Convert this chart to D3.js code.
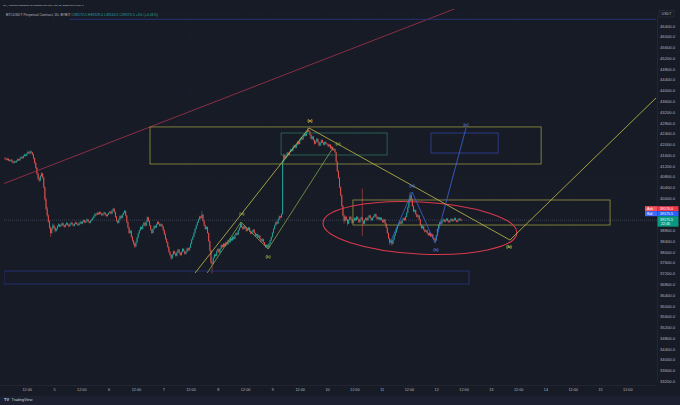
<!DOCTYPE html>
<html>
<head>
<meta charset="utf-8">
<title>BTCUSDT Perpetual, 30m</title>
<script src="https://cdn.jsdelivr.net/npm/d3@7"></script>
<style>
  html, body { margin: 0; padding: 0; background: #171b26; }
  svg { display: block; font-family: "Liberation Sans", Arial, sans-serif; }
</style>
</head>
<body>
<script>
// 30 minute candles, [open, high, low, close], one array per day (chart time UTC+1)
var mar04 = [
  [41480,41520,41420,41450],[41450,41480,41390,41420],[41420,41500,41400,41460],[41460,41470,41370,41400],
  [41400,41430,41340,41380],[41380,41450,41360,41420],[41420,41440,41320,41350],[41350,41380,41270,41310],
  [41310,41390,41290,41360],[41360,41380,41300,41330],[41330,41410,41310,41380],[41380,41470,41360,41440],
  [41440,41460,41370,41400],[41400,41500,41380,41470],[41470,41560,41450,41520],[41520,41540,41450,41480],
  [41480,41590,41470,41560],[41560,41650,41540,41610],[41610,41630,41540,41570],[41570,41680,41550,41640],
  [41640,41760,41620,41700],[41700,41720,41620,41660],[41660,41780,41640,41730],[41730,41750,41650,41690],
  [41690,41710,41580,41620],[41620,41640,41440,41480],[41480,41500,41260,41300],[41300,41340,41080,41120],
  [41120,41150,40860,40900],[40900,40940,40680,40720],[40720,40780,40600,40650],[40650,40860,40630,40820],
  [40820,40960,40790,40910],[40910,40930,40720,40760],[40760,40790,40360,40400],[40400,40430,39900,39950],
  [39950,40000,39550,39600],[39600,39680,39300,39350],[39350,39400,39080,39120],[39120,39180,38850,38900],
  [38900,38940,38550,38700],[38700,38900,38660,38860],[38860,39050,38820,38980]
];
var mar05 = [
  [38980,39020,38860,38900],[38900,38930,38720,38780],[38780,38880,38750,38850],[38850,38990,38830,38960],
  [38960,39060,38930,39020],[39020,39040,38910,38940],[38940,39020,38920,38990],[38990,39100,38970,39060],
  [39060,39080,38950,38980],[38980,39000,38890,38930],[38930,39040,38910,39010],[39010,39110,38990,39070],
  [39070,39090,38970,39000],[39000,39020,38910,38950],[38950,39060,38930,39030],[39030,39120,39010,39080],
  [39080,39100,38980,39010],[39010,39030,38940,38970],[38970,39070,38950,39040],[39040,39130,39020,39090],
  [39090,39110,39000,39030],[39030,39050,38960,38990],[38990,39090,38970,39060],[39060,39150,39040,39110],
  [39110,39130,39020,39050],[39050,39160,39030,39120],[39120,39210,39100,39170],[39170,39190,39060,39090],
  [39090,39170,39070,39140],[39140,39240,39120,39200],[39200,39220,39100,39130],[39130,39150,39050,39080],
  [39080,39180,39060,39150],[39150,39230,39130,39190],[39190,39290,39170,39250],[39250,39360,39230,39320],
  [39320,39450,39300,39410],[39410,39430,39340,39380],[39380,39490,39360,39450],[39450,39470,39370,39400],
  [39400,39510,39380,39470],[39470,39490,39390,39420],[39420,39440,39320,39360],[39360,39440,39340,39410],
  [39410,39500,39390,39460],[39460,39480,39350,39380],[39380,39400,39290,39330],[39330,39420,39310,39390]
];
var mar06 = [
  [39390,39470,39370,39440],[39440,39530,39420,39490],[39490,39510,39390,39420],[39420,39560,39400,39530],
  [39530,39640,39510,39600],[39600,39620,39450,39480],[39480,39500,39270,39300],[39300,39330,39110,39150],
  [39150,39180,39040,39080],[39080,39240,39060,39210],[39210,39360,39190,39330],[39330,39350,39230,39260],
  [39260,39410,39240,39380],[39380,39480,39360,39450],[39450,39560,39430,39520],[39520,39540,39320,39350],
  [39350,39370,39070,39100],[39100,39130,38870,38900],[38900,38930,38660,38700],[38700,38820,38680,38780],
  [38780,38800,38520,38560],[38560,38590,38380,38420],[38420,38450,38260,38300],[38300,38330,38140,38200],
  [38200,38380,38180,38350],[38350,38550,38330,38520],[38520,38710,38500,38680],[38680,38830,38660,38800],
  [38800,38950,38780,38920],[38920,38940,38820,38850],[38850,39020,38830,38990],[38990,39110,38970,39080],
  [39080,39100,38940,38970],[38970,39150,38950,39120],[39120,39320,39100,39280],[39280,39300,39120,39150],
  [39150,39170,38950,38980],[38980,39000,38790,38820],[38820,38840,38660,38700],[38700,38880,38680,38850],
  [38850,38990,38830,38960],[38960,38980,38870,38900],[38900,39050,38880,39020],[39020,39140,39000,39110],
  [39110,39130,39010,39040],[39040,39060,38930,38960],[38960,39050,38940,39020],[39020,39040,38910,38940]
];
var mar07 = [
  [38940,38960,38770,38800],[38800,38830,38620,38650],[38650,38680,38450,38480],[38480,38510,38320,38350],
  [38350,38380,38150,38180],[38180,38210,37970,38000],[38000,38030,37850,37880],[37880,37910,37700,37760],
  [37760,37930,37740,37900],[37900,38050,37880,38020],[38020,38040,37920,37950],[37950,37970,37820,37850],
  [37850,38010,37830,37980],[37980,38110,37960,38080],[38080,38100,37940,37960],[37960,37980,37850,37880],
  [37880,38020,37860,37990],[37990,38140,37970,38110],[38110,38130,38000,38030],[38030,38050,37890,37920],
  [37920,38030,37900,38000],[38000,38160,37980,38130],[38130,38150,38030,38060],[38060,38180,38040,38150],
  [38150,38330,38130,38300],[38300,38480,38280,38450],[38450,38590,38430,38560],[38560,38730,38540,38700],
  [38700,38880,38680,38850],[38850,39010,38830,38980],[38980,39130,38960,39100],[39100,39230,39080,39200],
  [39200,39340,39180,39310],[39310,39330,39220,39260],[39260,39520,39240,39380],[39380,39400,39120,39150],
  [39150,39170,38950,38980],[38980,39000,38820,38850],[38850,38950,38830,38920],[38920,38940,38670,38700],
  [38700,38720,38370,38400],[38400,38420,38020,38050],[38050,38080,37560,37600],[37600,37640,37200,37550],
  [37550,37810,37530,37780],[37780,37930,37760,37900],[37900,37920,37820,37850],[37850,38050,37830,38020]
];
var mar08 = [
  [38020,38130,38000,38100],[38100,38120,37950,37980],[37980,38150,37960,38120],[38120,38280,38100,38250],
  [38250,38270,38150,38180],[38180,38330,38160,38300],[38300,38320,38190,38220],[38220,38380,38200,38350],
  [38350,38370,38250,38280],[38280,38450,38260,38420],[38420,38440,38330,38360],[38360,38530,38340,38500],
  [38500,38520,38400,38430],[38430,38590,38410,38560],[38560,38580,38450,38480],[38480,38650,38460,38620],
  [38620,38730,38600,38700],[38700,38720,38610,38640],[38640,38830,38620,38800],[38800,38930,38780,38900],
  [38900,39110,38880,39050],[39050,39070,38890,38920],[38920,38940,38820,38850],[38850,38990,38830,38960],
  [38960,38980,38850,38880],[38880,38900,38750,38780],[38780,38870,38760,38840],[38840,38930,38820,38900],
  [38900,38920,38730,38760],[38760,38780,38650,38680],[38680,38780,38660,38750],[38750,38850,38730,38820],
  [38820,38840,38670,38700],[38700,38720,38570,38600],[38600,38680,38580,38650],[38650,38670,38510,38540],
  [38540,38630,38520,38600],[38600,38620,38450,38480],[38480,38500,38370,38400],[38400,38500,38380,38470],
  [38470,38490,38320,38350],[38350,38370,38230,38260],[38260,38280,38150,38180],[38180,38280,38160,38250],
  [38250,38270,38100,38160],[38160,38330,38140,38300],[38300,38450,38280,38420],[38420,38580,38400,38550]
];
var mar09 = [
  [38550,38730,38530,38700],[38700,38880,38680,38850],[38850,39010,38830,38980],[38980,39130,38960,39100],
  [39100,39120,39010,39050],[39050,39230,39030,39200],[39200,39350,39180,39320],[39320,39340,39240,39280],
  [39280,39430,39260,39400],[39400,41420,39380,41350],[41350,41650,41330,41600],[41600,41620,41430,41480],
  [41480,41580,41460,41550],[41550,41710,41530,41680],[41680,41700,41570,41600],[41600,41750,41580,41720],
  [41720,41830,41700,41800],[41800,41820,41720,41750],[41750,41910,41730,41880],[41880,41980,41860,41950],
  [41950,41970,41840,41870],[41870,42010,41850,41980],[41980,42110,41960,42080],[42080,42100,41980,42010],
  [42010,42180,41990,42150],[42150,42260,42130,42230],[42230,42250,42150,42180],[42180,42330,42160,42300],
  [42300,42410,42280,42380],[42380,42400,42290,42320],[42320,42480,42300,42450],[42450,42620,42430,42520],
  [42520,42540,42450,42480],[42480,42500,42320,42350],[42350,42370,42170,42200],[42200,42310,42180,42280],
  [42280,42300,42120,42150],[42150,42170,41990,42020],[42020,42130,42000,42100],[42100,42230,42080,42200],
  [42200,42220,42050,42080],[42080,42100,41920,41950],[41950,42080,41930,42050],[42050,42180,42030,42150],
  [42150,42170,42030,42060],[42060,42080,41950,41980],[41980,42110,41960,42080],[42080,42100,41990,42020]
];
var mar10 = [
  [42020,42040,41970,42000],[42000,42020,41890,41920],[41920,42010,41900,41980],[41980,42000,41820,41850],
  [41850,41930,41830,41900],[41900,41920,41750,41780],[41780,41850,41760,41820],[41820,41840,41670,41700],
  [41700,41720,41320,41350],[41350,41380,40970,41000],[41000,41030,40710,40750],[40750,40780,40360,40400],
  [40400,40430,40060,40100],[40100,40130,39660,39700],[39700,39730,39310,39350],[39350,39380,39050,39150],
  [39150,39340,39130,39300],[39300,39320,39170,39200],[39200,39220,38980,39050],[39050,39210,39030,39180],
  [39180,39330,39160,39300],[39300,39320,39190,39220],[39220,39240,39050,39080],[39080,39190,39060,39160],
  [39160,39280,39140,39250],[39250,39270,39150,39180],[39180,39330,39160,39300],[39300,39320,39190,39220],
  [39220,39240,39070,39100],[39100,39230,39080,39200],[39200,39310,39180,39280],[39280,40350,38600,39150],
  [39150,39170,39020,39050],[39050,39210,39030,39180],[39180,39280,39160,39250],[39250,39270,39140,39170],
  [39170,39310,39150,39280],[39280,39380,39260,39350],[39350,39370,39220,39250],[39250,39270,39150,39180],
  [39180,39290,39160,39260],[39260,39350,39240,39320],[39320,39420,39300,39400],[39400,39420,39270,39300],
  [39300,39320,39190,39220],[39220,39310,39200,39280],[39280,39300,39170,39200],[39200,39290,39180,39260]
];
var mar11 = [
  [39260,39280,39150,39180],[39180,39200,39070,39100],[39100,39230,39080,39200],[39200,39220,39020,39050],
  [39050,39070,38870,38900],[38900,38920,38670,38700],[38700,38720,38470,38500],[38500,38520,38250,38350],
  [38350,38450,38330,38420],[38420,38440,38220,38300],[38300,38480,38280,38450],[38450,38630,38430,38600],
  [38600,38750,38580,38720],[38720,38880,38700,38850],[38850,38990,38830,38960],[38960,39080,38940,39050],
  [39050,39150,39030,39120],[39120,39140,39020,39050],[39050,39210,39030,39180],[39180,39280,39160,39250],
  [39250,39270,39150,39180],[39180,39330,39160,39300],[39300,39480,39280,39450],[39450,39680,39430,39650],
  [39650,39930,39630,39900],[39900,40220,39880,40100],[40100,40130,39920,39950],[39950,39980,39670,39700],
  [39700,39730,39470,39500],[39500,39580,39480,39550],[39550,39570,39370,39400],[39400,39420,39270,39300],
  [39300,39380,39280,39350],[39350,39370,39170,39200],[39200,39220,38970,39000],[39000,39020,38850,38880],
  [38880,38980,38860,38950],[38950,38970,38790,38820],[38820,38840,38720,38750],[38750,38830,38730,38800],
  [38800,38820,38670,38700],[38700,38720,38590,38620],[38620,38730,38600,38700],[38700,38720,38550,38580],
  [38580,38680,38560,38650],[38650,38670,38490,38520],[38520,38540,38440,38480],[38480,38500,38360,38420]
];
var mar12 = [
  [38420,38630,38400,38600],[38600,38880,38580,38850],[38850,39030,38830,39000],[39000,39130,38980,39100],
  [39100,39120,39020,39050],[39050,39180,39030,39150],[39150,39240,39130,39200],[39200,39220,39090,39120],
  [39120,39210,39100,39180],[39180,39260,39160,39230],[39230,39250,39120,39150],[39150,39170,39080,39100],
  [39100,39200,39080,39170],[39170,39250,39150,39220],[39220,39240,39110,39140],[39140,39220,39120,39190],
  [39190,39280,39170,39250],[39250,39270,39150,39170],[39170,39190,39090,39120],[39120,39210,39100,39180],
  [39180,39260,39160,39230],[39230,39250,39150,39172.5],[39172.5,39229,39145.5,39175.5]
];
var dayBars = [mar04, mar05, mar06, mar07, mar08, mar09, mar10, mar11, mar12];
// first bar of each day, hours since Mar 4 00:00
var dayStarts = [2.5, 24, 48, 72, 96, 120, 144, 168, 192];

// axes
var priceTicks = [33200,33600,34000,34400,34800,35200,35600,36000,36400,36800,37200,37600,38000,38400,
  38800,39200,39600,40000,40400,40800,41200,41600,42000,42400,42800,43200,43600,44000,44400,44800,
  45200,45600,46000,46400,46800];
var timeTickHours = [12,24,36,48,60,72,84,96,108,120,132,144,156,168,180,192,204,216,228,240,252,264,276];
var timeTickLabels = ["12:00","5","12:00","6","12:00","7","12:00","8","12:00","9","12:00","10","12:00",
  "11","12:00","12","12:00","13","12:00","14","12:00","15","12:00"];

// drawings, in [hours, price]
var trendLine = [[1.5, 40520], [203.5, 47140]];
var topLine = [[31, 46640], [288.6, 46640]];
// boxes: [t0, t1, top price, bottom price]
var yellowBox = [66.2, 238.1, 42640, 41264];
var greenBox = [123.8, 170.4, 42416, 41598];
var blueBoxTop = [189.7, 219.2, 42416, 41673];
var yellowBoxLow = [155.4, 268.4, 39926, 38996];
var blueBoxLow = [2.0, 206.4, 37287, 36804];
var ellipseBox = [142.2, 227.5, 39851, 37918];
var ellipseTilt = 3;
var yellowWave = [[86.0, 37212], [136.1, 42602], [224.4, 38439], [288.6, 43717]];
var greenWave = [[91.3, 37212], [106.2, 39108], [118.1, 38104], [146.6, 41858]];
var blueWave = [[171.7, 38327], [181.4, 40223], [191.5, 38327], [205.1, 42602]];
var yellowLabels = [["(a)", 136.5, 42880], ["(b)", 224, 38200]];
var greenLabels = [["(a)", 106.6, 39442], ["(b)", 118.1, 37844], ["(c)", 148.8, 42007]];
var blueLabels = [["(a)", 181.4, 40483], ["(b)", 191.9, 38104], ["(c)", 205.1, 42713]];

var header1 = "TP_Analytics published on TradingView.com, Mar 12, 2022 11:07 UTC+1";
var header2 = "BTCUSDT Perpetual Contract, 30, BYBIT ";
var header2Values = "O39172.5 H39229.0 L39145.5 C39175.5 +3.0 (+0.01%)";
var askPrice = "39176.0", bidPrice = "39175.5", lastPrice = 39175.5, countdown = "22:46";

var W = 680, H = 405;
var pane = {left: 4, right: 657, top: 9, bottom: 385};
var up = "#26a69a", down = "#ef5350";

var svg = d3.select("body").append("svg").attr("width", W).attr("height", H);
svg.append("rect").attr("width", W).attr("height", H).attr("fill", "#171b26");
svg.append("rect").attr("y", 396).attr("width", W).attr("height", 9).attr("fill", "#1c2030");

var x = d3.scaleLinear().domain([0, 288.6]).range([-0.6, 656]);
var y = d3.scaleLinear().domain([33200, 46800]).range([381, 15]);
var ly = y(lastPrice);

svg.append("clipPath").attr("id", "pane").append("rect")
    .attr("x", pane.left).attr("y", pane.top)
    .attr("width", pane.right - pane.left).attr("height", pane.bottom - pane.top);

var grid = svg.append("g").attr("clip-path", "url(#pane)");
grid.selectAll(".gy").data(priceTicks).enter().append("line")
    .attr("x1", pane.left).attr("x2", pane.right)
    .attr("y1", function(d) { return y(d); }).attr("y2", function(d) { return y(d); })
    .attr("stroke", "#1d2130").attr("stroke-width", 0.5);
grid.selectAll(".gx").data(timeTickHours).enter().append("line")
    .attr("y1", pane.top).attr("y2", pane.bottom)
    .attr("x1", function(d) { return x(d); }).attr("x2", function(d) { return x(d); })
    .attr("stroke", "#1d2130").attr("stroke-width", 0.5);

var plot = svg.append("g").attr("clip-path", "url(#pane)");

// candles
var candles = [];
dayBars.forEach(function(rows, d) {
    rows.forEach(function(r, i) {
        candles.push({t: dayStarts[d] + i * 0.5, o: r[0], h: r[1], l: r[2], c: r[3]});
    });
});
var colour = function(d) { return d.c >= d.o ? up : down; };

// last price line
plot.append("line")
    .attr("x1", pane.left).attr("x2", pane.right)
    .attr("y1", ly).attr("y2", ly)
    .attr("stroke", "#5a6474").attr("stroke-width", 0.5).attr("stroke-dasharray", "1,1");

plot.selectAll(".wick").data(candles).enter().append("line")
    .attr("x1", function(d) { return x(d.t); }).attr("x2", function(d) { return x(d.t); })
    .attr("y1", function(d) { return y(d.h); }).attr("y2", function(d) { return y(d.l); })
    .attr("stroke", colour).attr("stroke-width", 0.5);
plot.selectAll(".body").data(candles).enter().append("rect")
    .attr("x", function(d) { return x(d.t) - 0.45; }).attr("width", 0.9)
    .attr("y", function(d) { return y(Math.max(d.o, d.c)); })
    .attr("height", function(d) { return Math.max(0.5, Math.abs(y(d.o) - y(d.c))); })
    .attr("fill", colour);

// drawings
var line = d3.line().x(function(d) { return x(d[0]); }).y(function(d) { return y(d[1]); });
function box(b, stroke) {
    plot.append("rect")
        .attr("x", x(b[0])).attr("y", y(b[2]))
        .attr("width", x(b[1]) - x(b[0])).attr("height", y(b[3]) - y(b[2]))
        .attr("fill", "none").attr("stroke", stroke).attr("stroke-width", 0.7);
}
plot.append("path").attr("d", line(trendLine)).attr("fill", "none").attr("stroke", "#a8324d").attr("stroke-width", 0.8);
plot.append("path").attr("d", line(topLine)).attr("fill", "none").attr("stroke", "#2b3a8c").attr("stroke-width", 0.8);
box(yellowBox, "#a9a642");
box(greenBox, "#2e7a62");
box(blueBoxTop, "#3447b0");
box(yellowBoxLow, "#a9a642");
box(blueBoxLow, "#2b3a8c");

var ecx = x((ellipseBox[0] + ellipseBox[1]) / 2), ecy = y((ellipseBox[2] + ellipseBox[3]) / 2);
plot.append("ellipse")
    .attr("cx", ecx).attr("cy", ecy)
    .attr("rx", (x(ellipseBox[1]) - x(ellipseBox[0])) / 2)
    .attr("ry", (y(ellipseBox[3]) - y(ellipseBox[2])) / 2)
    .attr("transform", "rotate(" + ellipseTilt + "," + ecx + "," + ecy + ")")
    .attr("fill", "none").attr("stroke", "#d9394b").attr("stroke-width", 1.1);

plot.append("path").attr("d", line(yellowWave)).attr("fill", "none").attr("stroke", "#c3c04a").attr("stroke-width", 0.8);
plot.append("path").attr("d", line(greenWave)).attr("fill", "none").attr("stroke", "#7aa447").attr("stroke-width", 0.8);
plot.append("path").attr("d", line(blueWave)).attr("fill", "none").attr("stroke", "#3b63d8").attr("stroke-width", 0.8);

function labels(list, fill) {
    plot.selectAll(null).data(list).enter().append("text")
        .attr("x", function(d) { return x(d[1]); }).attr("y", function(d) { return y(d[2]); })
        .attr("text-anchor", "middle").attr("dominant-baseline", "central")
        .attr("font-size", 4.2).attr("font-weight", "bold").attr("fill", fill)
        .text(function(d) { return d[0]; });
}
labels(yellowLabels, "#d6d24e");
labels(greenLabels, "#7fb24a");
labels(blueLabels, "#4a72e8");

// axes; like the scale itself, skip labels that sit under the price tags or the currency tag
var shownPrices = priceTicks.filter(function(p) {
    var py = y(p);
    return py > 18 && (py < ly - 15 || py > ly + 8);
});
var yAxis = d3.axisRight(y).tickValues(shownPrices).tickSize(0).tickPadding(3)
    .tickFormat(function(d) { return d.toFixed(1); });
var gy = svg.append("g").attr("transform", "translate(" + pane.right + ",0)").call(yAxis)
    .attr("font-size", 4.2).attr("font-family", "Liberation Sans, Arial, sans-serif");
gy.select(".domain").attr("stroke", "#2a2e39").attr("stroke-width", 0.6);
gy.selectAll("text").attr("fill", "#b2b5be");

var xAxis = d3.axisBottom(x).tickValues(timeTickHours).tickSize(0).tickPadding(3)
    .tickFormat(function(d, i) { return timeTickLabels[i]; });
var gx = svg.append("g").attr("transform", "translate(0," + pane.bottom + ")").call(xAxis)
    .attr("font-size", 3.8).attr("font-family", "Liberation Sans, Arial, sans-serif");
gx.select(".domain").attr("stroke", "#2a2e39").attr("stroke-width", 0.6);
gx.selectAll("text").attr("fill", "#b2b5be");

// price tags on the scale
var tags = svg.append("g").attr("font-size", 3.6);
tags.append("rect").attr("x", 645).attr("y", ly - 14).attr("width", 12.5).attr("height", 5).attr("fill", "#f7525f");
tags.append("rect").attr("x", 657.5).attr("y", ly - 14).attr("width", 21).attr("height", 5).attr("fill", "#f23645");
tags.append("rect").attr("x", 645).attr("y", ly - 9).attr("width", 12.5).attr("height", 5).attr("fill", "#3d6dff");
tags.append("rect").attr("x", 657.5).attr("y", ly - 9).attr("width", 21).attr("height", 5).attr("fill", "#2962ff");
tags.append("rect").attr("x", 657.5).attr("y", ly - 4).attr("width", 21).attr("height", 10.5).attr("fill", "#089981");
tags.append("text").attr("x", 647).attr("y", ly - 10.2).attr("fill", "#fff").text("Ask");
tags.append("text").attr("x", 660).attr("y", ly - 10.2).attr("fill", "#fff").text(askPrice);
tags.append("text").attr("x", 647).attr("y", ly - 5.2).attr("fill", "#fff").text("Bid");
tags.append("text").attr("x", 660).attr("y", ly - 5.2).attr("fill", "#fff").text(bidPrice);
tags.append("text").attr("x", 660).attr("y", ly + 0.6).attr("fill", "#fff").text(lastPrice.toFixed(1));
tags.append("text").attr("x", 661).attr("y", ly + 5).attr("fill", "#fff").text(countdown);

// currency tag
svg.append("rect").attr("x", 659).attr("y", 10.5).attr("width", 15).attr("height", 6.5)
    .attr("fill", "#171b26").attr("stroke", "#3a3e4a").attr("stroke-width", 0.4);
svg.append("text").attr("x", 666.5).attr("y", 15.3).attr("text-anchor", "middle")
    .attr("font-size", 3.6).attr("fill", "#b2b5be").text("USDT");

// header legend
svg.append("text").attr("x", 3).attr("y", 6).attr("font-size", 2.5).attr("fill", "#c8cad2").text(header1);
var h2 = svg.append("text").attr("x", 6).attr("y", 15.5).attr("font-size", 3.5).attr("fill", "#b2b5be");
h2.append("tspan").text(header2);
h2.append("tspan").attr("fill", "#26a69a").text(header2Values);

// footer logo
var logo = svg.append("g").attr("transform", "translate(4,401)");
logo.append("text").attr("font-size", 4).attr("font-weight", "bold").attr("fill", "#d1d4dc").text("TV");
logo.append("text").attr("x", 7.5).attr("font-size", 3.8).attr("fill", "#d1d4dc").text("TradingView");
</script>
</body>
</html>
